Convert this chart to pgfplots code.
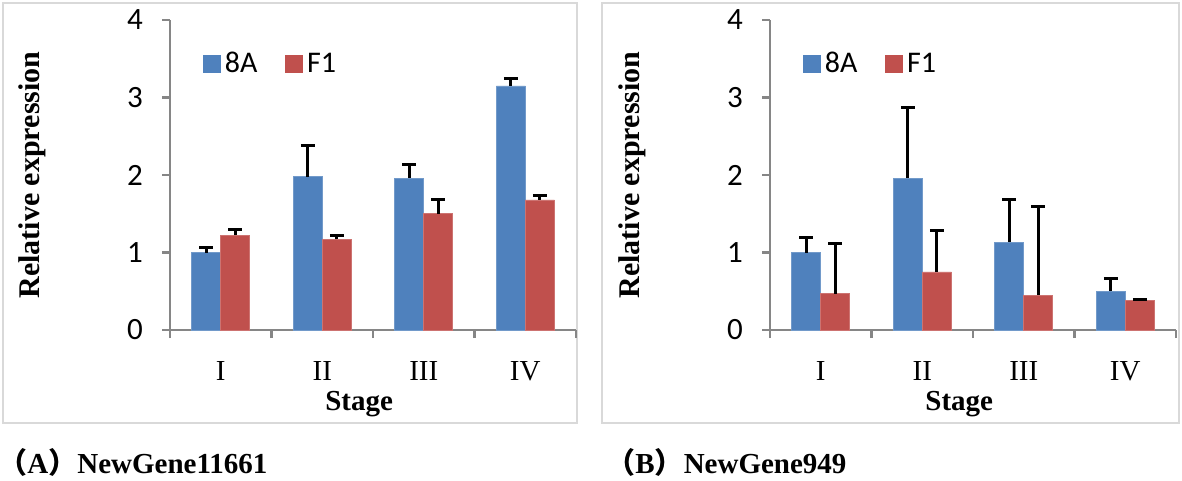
\documentclass[border=0pt]{standalone}
\usepackage{fontspec}
\setmainfont{Liberation Serif}
\newfontfamily\carlito{Carlito}
\newfontfamily\cjk{Noto Sans CJK SC}
\usepackage{pgfplots}
\usepackage{pgfplotstable}
\pgfplotsset{compat=1.18}
\definecolor{barblue}{HTML}{4F81BD}
\definecolor{barred}{HTML}{C0504D}
\definecolor{axgray}{HTML}{868686}
\definecolor{framegray}{HTML}{D9D9D9}

\pgfplotstableread{
x y e
1 1.00 0.07
2 1.98 0.40
3 1.96 0.18
4 3.15 0.10
}\Aeight
\pgfplotstableread{
x y e
1 1.22 0.08
2 1.17 0.05
3 1.50 0.19
4 1.68 0.05
}\Afone
\pgfplotstableread{
x y e
1 1.00 0.20
2 1.96 0.91
3 1.13 0.55
4 0.50 0.16
}\Beight
\pgfplotstableread{
x y e
1 0.47 0.65
2 0.75 0.54
3 0.45 1.14
4 0.38 0.01
}\Bfone

\pgfplotsset{
  panel/.style={
    scale only axis, width=203pt, height=155pt,
    xmin=0.5, xmax=4.5, ymin=0, ymax=4,
    axis lines=left, axis line style={-, axgray, line width=1.25pt},
    ybar=0pt, bar width=14.5pt,
    xtick={0.5,1.5,2.5,3.5,4.5}, xticklabels={I,II,III,IV}, x tick label as interval,
    ytick={0,1,2,3,4},
    tick align=outside, major tick length=4pt,
    tick style={axgray, line width=1.25pt},
    xticklabel style={font=\fontsize{14.5}{14.5}\selectfont, text=black, yshift=-8pt},
    yticklabel style={font=\carlito\fontsize{15.5}{15.5}\selectfont, text=black, xshift=-6pt},
    /pgf/number format/assume math mode=true,
    xlabel={\textbf{Stage}},
    ylabel={\textbf{Relative expression}},
    every axis x label/.style={at={(axis description cs:0.466,0)}, anchor=center, yshift=-37pt, font=\fontsize{14.5}{14.5}\selectfont},
    every axis y label/.style={at={(axis description cs:-0.34,0.5)}, anchor=center, rotate=90, font=\fontsize{15}{15}\selectfont},
    legend style={at={(axis description cs:0.081,0.858)}, anchor=west, draw=none, fill=none, inner sep=0pt,
      font=\carlito\fontsize{15}{15}\selectfont,
      /tikz/every even column/.append style={column sep=12pt}},
    legend columns=2, legend cell align=left,
  },
  ebars/.style={error bars/.cd, y dir=plus, y explicit,
      error bar style={black, line width=1.5pt},
      error mark options={rotate=90, black, mark size=3.5pt, line width=1.5pt}},
  bluebar/.style={fill=barblue, draw=barblue!80!white, line width=0.3pt,
    legend image code/.code={\fill[barblue] (0pt,-4.25pt) rectangle (8.5pt,4.25pt);}},
  redbar/.style={fill=barred, draw=barred!80!white, line width=0.3pt,
    legend image code/.code={\fill[barred] (0pt,-4.25pt) rectangle (8.5pt,4.25pt);}},
}

\begin{document}
\begin{tikzpicture}
\useasboundingbox (0,0) rectangle (591pt,-240.5pt);
\fill[white] (0,0) rectangle (591pt,-240.5pt);
\draw[framegray, line width=0.75pt] (1.5pt,-1.5pt) rectangle (288.5pt,-211.5pt);
\draw[framegray, line width=0.75pt] (301pt,-1.5pt) rectangle (589.5pt,-211.5pt);

\begin{axis}[panel, at={(85pt,-165pt)}, anchor=south west]
\addplot[bluebar, ebars] table[x=x, y=y, y error=e]{\Aeight};
\addplot[redbar, ebars] table[x=x, y=y, y error=e]{\Afone};
\legend{8A, F1}
\end{axis}

\begin{axis}[panel, at={(385pt,-165pt)}, anchor=south west]
\addplot[bluebar, ebars] table[x=x, y=y, y error=e]{\Beight};
\addplot[redbar, ebars] table[x=x, y=y, y error=e]{\Bfone};
\legend{8A, F1}
\end{axis}

\node[anchor=base west, inner sep=0pt, font=\fontsize{14.5}{14.5}\selectfont\bfseries] at (-1pt,-236.5pt)
  {{\cjk （}A{\cjk ）}NewGene11661};
\node[anchor=base west, inner sep=0pt, font=\fontsize{14.5}{14.5}\selectfont\bfseries] at (303pt,-236.5pt)
  {{\cjk （}B{\cjk ）}NewGene949};
\end{tikzpicture}
\end{document}
